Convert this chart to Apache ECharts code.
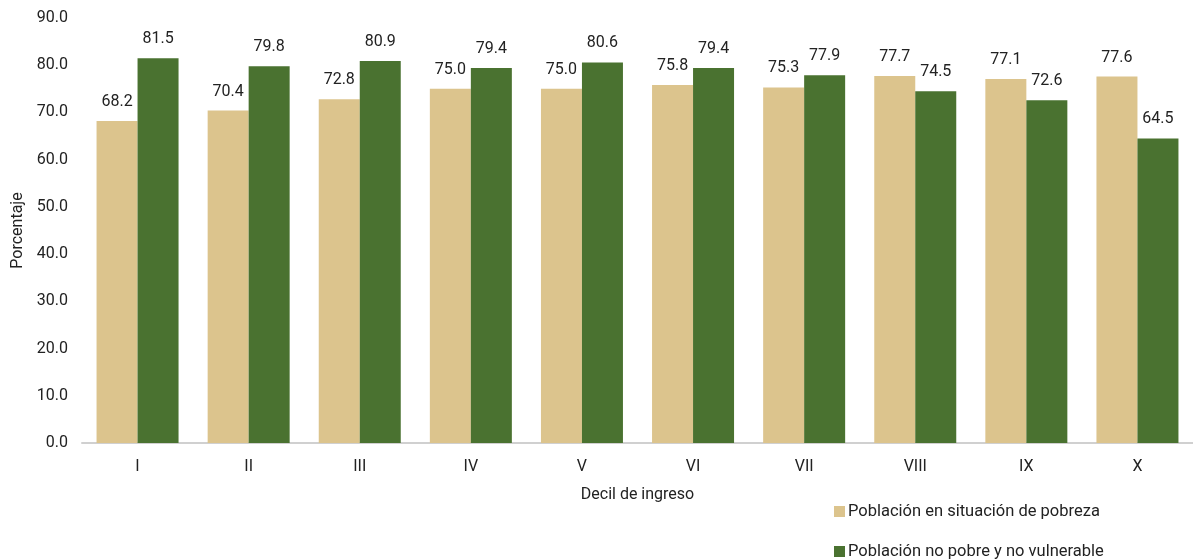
<!DOCTYPE html>
<html>
<head>
<meta charset="utf-8">
<script src="https://cdn.jsdelivr.net/npm/echarts@6/dist/echarts.min.js"></script>
<style>
  html, body { margin: 0; padding: 0; background: #fff; }
  #chart { width: 1193px; height: 560px; }
</style>
</head>
<body>
<div id="chart"></div>
<script>
// Income deciles
const categories = ['I', 'II', 'III', 'IV', 'V', 'VI', 'VII', 'VIII', 'IX', 'X'];
// Percentages per decil
const pobreza = [68.2, 70.4, 72.8, 75.0, 75.0, 75.8, 75.3, 77.7, 77.1, 77.6];
const noPobre = [81.5, 79.8, 80.9, 79.4, 80.6, 79.4, 77.9, 74.5, 72.6, 64.5];
const seriesNames = ['Población en situación de pobreza', 'Población no pobre y no vulnerable'];

const FONT = 'Roboto, "Noto Sans", sans-serif';
const TEXT = '#222';

const chart = echarts.init(document.getElementById('chart'), null, { renderer: 'canvas' });

const labelCfg = {
  show: true,
  position: 'top',
  distance: 11,
  color: TEXT,
  fontSize: 16,
  fontFamily: FONT,
  formatter: p => p.value.toFixed(1)
};

// One legend block per series, stacked vertically below the axis title
const legendBase = {
  orient: 'vertical',
  left: 834,
  padding: 0,
  itemWidth: 11,
  itemHeight: 11,
  icon: 'rect',
  textStyle: { color: TEXT, fontSize: 16.5, fontFamily: FONT, padding: [0, 0, 0, -2] }
};

chart.setOption({
  animation: false,
  textStyle: { fontFamily: FONT },
  grid: { left: 82, right: 0, top: 18, bottom: 117, containLabel: false },
  legend: [
    Object.assign({}, legendBase, { top: 503, data: [seriesNames[0]] }),
    Object.assign({}, legendBase, { top: 543, data: [seriesNames[1]] })
  ],
  xAxis: {
    type: 'category',
    data: categories,
    name: 'Decil de ingreso',
    nameLocation: 'middle',
    nameGap: 44,
    nameTextStyle: { color: TEXT, fontSize: 16, fontFamily: FONT },
    axisLine: { show: true, lineStyle: { color: '#d0d0d0', width: 2 } },
    axisTick: { show: false },
    axisLabel: { color: TEXT, fontSize: 16, fontFamily: FONT, margin: 16 }
  },
  yAxis: {
    type: 'value',
    min: 0,
    max: 90,
    interval: 10,
    name: 'Porcentaje',
    nameLocation: 'middle',
    nameGap: 56,
    nameRotate: 90,
    nameTextStyle: { color: TEXT, fontSize: 16, fontFamily: FONT },
    axisLine: { show: false },
    axisTick: { show: false },
    splitLine: { show: false },
    axisLabel: {
      color: TEXT, fontSize: 16, fontFamily: FONT, margin: 14,
      formatter: v => v.toFixed(1)
    }
  },
  series: [
    {
      name: seriesNames[0],
      type: 'bar',
      data: pobreza,
      barWidth: 41,
      barGap: '0%',
      itemStyle: { color: '#DCC48D' },
      label: labelCfg
    },
    {
      name: seriesNames[1],
      type: 'bar',
      data: noPobre,
      barWidth: 41,
      barGap: '0%',
      itemStyle: { color: '#4A7230' },
      label: labelCfg
    }
  ]
});
</script>
</body>
</html>
